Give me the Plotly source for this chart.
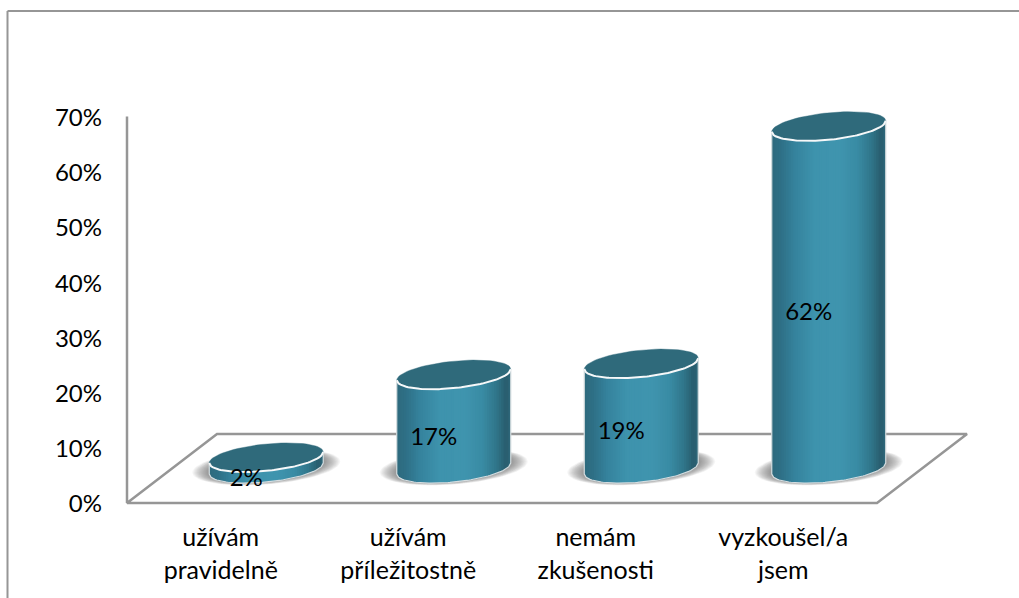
import math
import plotly.graph_objects as go

# data
categories = ["užívám<br>pravidelně", "užívám<br>příležitostně", "nemám<br>zkušenosti", "vyzkoušel/a<br>jsem"]
values = [0.02, 0.17, 0.19, 0.62]
y_ticks = [0, 0.1, 0.2, 0.3, 0.4, 0.5, 0.6, 0.7]

W, H = 1019, 598
PX_X = 187.5   # px per category
PX_Y = 552     # px per 100 %
X_ORIGIN = 220.75
Y_ORIGIN = 503
DEPTH_X = 90 / PX_X
DEPTH_Y = 69 / PX_Y
RX = 57 / PX_X
RY = 13.5 / PX_Y
SHEAR = 5.5 / PX_Y
GRAY = "#969696"
FONT = "Lato"

# body shading from left to right
stops = [(0, "#2e6a7d"), (0.08, "#2e7086"), (0.2, "#35829c"), (0.38, "#3e93ad"),
         (0.6, "#3f94ae"), (0.75, "#398ba4"), (0.87, "#30768b"), (0.96, "#285c6d"), (1, "#2f6a7c")]
N_STRIPS = 48


def shade(t):
    for (t0, c0), (t1, c1) in zip(stops, stops[1:]):
        if t <= t1:
            k = (t - t0) / (t1 - t0)
            a = [int(c0[j:j + 2], 16) for j in (1, 3, 5)]
            b = [int(c1[j:j + 2], 16) for j in (1, 3, 5)]
            return "rgb(%d,%d,%d)" % tuple(round(p + (q - p) * k) for p, q in zip(a, b))
    return stops[-1][1]


def ellipse(cx, cy, rx=RX, ry=RY, shear=SHEAR, n=72):
    xs, ys = [], []
    for k in range(n + 1):
        t = 2 * math.pi * k / n
        xs.append(cx + rx * math.cos(t))
        ys.append(cy + ry * math.sin(t) + shear * math.cos(t))
    return xs, ys


def front_y(u, cy):
    # lower arc of the tilted ellipse, u from -1 to 1
    return cy - RY * math.sqrt(max(0, 1 - u * u)) + SHEAR * u


centers = [i + 91 / PX_X / 2 for i in range(len(values))]
base_y = DEPTH_Y / 2

fig = go.Figure()

# floor and value axis line
fl_x = [-0.5, 3.5, 3.5 + DEPTH_X, -0.5 + DEPTH_X, -0.5, -0.5]
fl_y = [0, 0, DEPTH_Y, DEPTH_Y, 0, 0.7]
fig.add_trace(go.Scatter(x=fl_x, y=fl_y, mode="lines", line=dict(color=GRAY, width=2.5)))

# soft shadows under the cylinders
n_shadow = 16
for k in range(n_shadow):
    f = 1 - k / n_shadow
    sx, sy = [], []
    for c in centers:
        ex, ey = ellipse(c, base_y + 1.5 / PX_Y, RX + f * 17 / PX_X, RY + 1 / PX_Y + f * 3 / PX_Y)
        sx += ex + [None]
        sy += ey + [None]
    fig.add_trace(go.Scatter(x=sx, y=sy, mode="lines", fill="toself", line=dict(width=0),
                             fillcolor="rgba(90,90,90,0.055)"))

# cylinder bodies, one trace per shade
for s in range(N_STRIPS):
    u0 = -1 + 2 * s / N_STRIPS
    u1 = min(1, u0 + 2 * 1.4 / N_STRIPS)
    px, py = [], []
    for c, v in zip(centers, values):
        us = [u0 + (u1 - u0) * j / 3 for j in range(4)]
        xs = [c + RX * u for u in us]
        px += xs + xs[::-1] + [xs[0], None]
        py += [front_y(u, base_y) for u in us] + [front_y(u, base_y + v) for u in us[::-1]] + [front_y(u0, base_y), None]
    fig.add_trace(go.Scatter(x=px, y=py, mode="lines", fill="toself", line=dict(width=0),
                             fillcolor=shade((s + 0.5) / N_STRIPS)))

# light outline of the bodies
ox, oy = [], []
for c, v in zip(centers, values):
    us = [-1 + 2 * j / 60 for j in range(61)]
    ox += [c - RX] + [c + RX * u for u in us] + [c + RX, None]
    oy += [front_y(-1, base_y + v)] + [front_y(u, base_y) for u in us] + [front_y(1, base_y + v), None]
fig.add_trace(go.Scatter(x=ox, y=oy, mode="lines", line=dict(color="#d5dde0", width=1.2)))

# top faces, white rim only along the front
tx, ty, rx_, ry_ = [], [], [], []
for c, v in zip(centers, values):
    ex, ey = ellipse(c, base_y + v)
    tx += ex + [None]
    ty += ey + [None]
    us = [-1 + 2 * j / 60 for j in range(61)]
    rx_ += [c + RX * u for u in us] + [None]
    ry_ += [front_y(u, base_y + v) for u in us] + [None]
fig.add_trace(go.Scatter(x=tx, y=ty, mode="lines", fill="toself", fillcolor="#2f6a7b",
                         line=dict(color="rgba(47,106,123,0.4)", width=1)))
fig.add_trace(go.Scatter(x=rx_, y=ry_, mode="lines", line=dict(color="#f6f8f9", width=2)))

# value labels
fig.add_trace(go.Scatter(
    x=[c - 20 / PX_X for c in centers],
    y=[base_y + v / 2 - 17 / PX_Y for v in values],
    mode="text",
    text=["%d%%" % round(v * 100) for v in values],
    textposition="middle center",
    textfont=dict(family=FONT, size=24, color="#000000"),
))

fig.update_layout(
    width=W, height=H,
    margin=dict(l=0, r=0, t=0, b=0),
    paper_bgcolor="white", plot_bgcolor="white",
    showlegend=False,
    xaxis=dict(
        range=[-X_ORIGIN / PX_X, (W - X_ORIGIN) / PX_X],
        tickmode="array", tickvals=list(range(len(categories))),
        ticktext=categories,
        tickfont=dict(family=FONT, size=25, color="#000000"),
        ticks="", ticklabelstandoff=17,
        showgrid=False, zeroline=False, showline=False,
        anchor="free", position=(H - Y_ORIGIN) / H,
    ),
    yaxis=dict(
        range=[-(H - Y_ORIGIN) / PX_Y, Y_ORIGIN / PX_Y],
        tickmode="array", tickvals=y_ticks, tickformat=".0%",
        tickfont=dict(family=FONT, size=24, color="#000000"),
        ticks="", ticklabelstandoff=25, ticklabelshift=1,
        showgrid=False, zeroline=False, showline=False,
        anchor="free", position=127 / W,
    ),
    shapes=[
        dict(type="line", xref="paper", yref="paper", x0=7.5 / W, x1=1, y0=1 - 11 / H, y1=1 - 11 / H,
             line=dict(color=GRAY, width=2)),
        dict(type="line", xref="paper", yref="paper", x0=7.5 / W, x1=7.5 / W, y0=0, y1=1 - 11 / H,
             line=dict(color=GRAY, width=2)),
    ],
)

fig.write_html("out.html", config={"displayModeBar": False}, post_script="document.body.style.margin='0';")
